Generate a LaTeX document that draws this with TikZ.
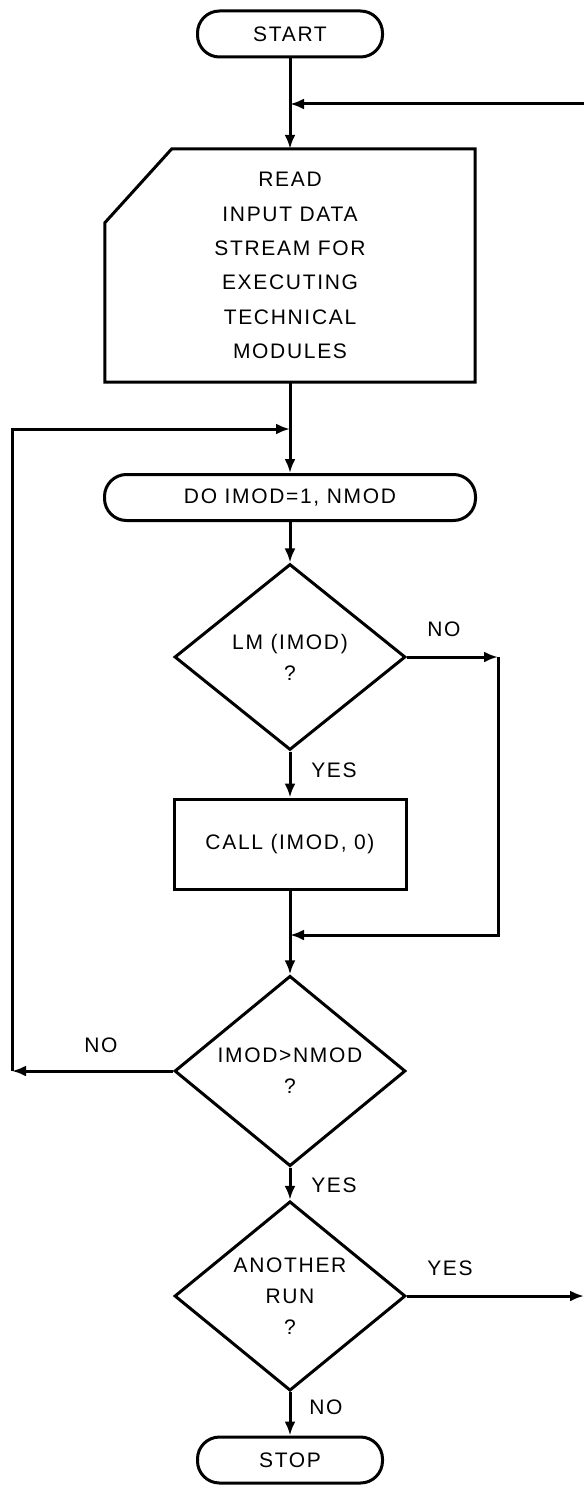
\documentclass[tikz,border=0pt]{standalone}
\usepackage{fontspec}
\setmainfont{Liberation Sans}[LetterSpace=8]
\usetikzlibrary{shapes.geometric,arrows.meta}

\tikzset{
  flow/.style={line width=3pt,-{Latex[length=14pt,width=11pt]}},
  term/.style={draw,line width=3pt,rectangle,rounded corners=22pt,minimum height=46pt},
  proc/.style={draw,line width=3pt,rectangle,minimum width=232pt,minimum height=90pt},
  decide/.style={draw,line width=3pt,diamond,inner sep=0pt,align=center,
    minimum width=231pt,minimum height=186pt},
  lbl/.style={inner sep=0pt}
}

\begin{document}
\begin{tikzpicture}[x=1pt,y=-1pt,font=\fontsize{21}{31}\selectfont]
			\useasboundingbox (0,0) rectangle (584,1487);

			\node (1) [term,minimum width=185pt] at (290,34) {START};
			\node (2) [below of=1,node distance=231.5pt,rectangle,
				minimum width=370pt,minimum height=233pt,align=center,
				font=\fontsize{21}{34.4}\selectfont]
				{READ\\INPUT DATA\\STREAM FOR\\EXECUTING\\TECHNICAL\\MODULES};
			\node (3) [below of=2,node distance=232pt,term,minimum width=371pt] {DO IMOD=1, NMOD};
			\node (4) [below of=3,node distance=159.5pt,decide] {LM (IMOD)\\?};
			\node (5) [below of=4,node distance=187pt,proc] {CALL (IMOD, 0)};
			\node (6) [below of=5,node distance=227pt,decide] {IMOD>NMOD\\?};
			\node (7) [below of=6,node distance=225pt,decide] {ANOTHER\\RUN\\?};
			\node (8) [below of=7,node distance=164pt,term,minimum width=185pt] {STOP};

			% input card outline
			\draw[line width=3pt,line join=miter] ([xshift=67pt]2.north west) -- (2.north east)
				-- (2.south east) -- (2.south west) -- ([yshift=-74pt]2.north west) -- cycle;

			% loop ends
			\coordinate (r1) at (584,104);
			\coordinate (r2) at (290,104);
			\coordinate (l1) at (12,1071);
			\coordinate (l2) at (290,429);
			\coordinate (n1) at (498,657);
			\coordinate (n2) at (290,935);
			\coordinate (y1) at (584,1296);

			\draw[flow] (1) -- (2);
			\draw[flow] (r1) -- (r2);
			\draw[flow] (2) -- (3);
			\draw[flow] (l1) |- (l2);
			\draw[flow] (3) -- (4);
			\draw[flow] (4) -- (5);
			\draw[flow] (4.east) -- (n1);
			\draw[flow] (n1) |- (n2);
			\draw[flow] (5) -- (6);
			\draw[flow] (6.west) -- (l1);
			\draw[flow] (6) -- (7);
			\draw[flow] (7.east) -- (y1);
			\draw[flow] (7) -- (8);

			\node (no1) [lbl] at (444,629) {NO};
			\node (yes1) [lbl] at (334,770) {YES};
			\node (no2) [lbl] at (101,1045) {NO};
			\node (yes2) [lbl] at (334,1185) {YES};
			\node (yes3) [lbl] at (450,1268) {YES};
			\node (no3) [lbl] at (326,1407) {NO};
		\end{tikzpicture}
\end{document}
